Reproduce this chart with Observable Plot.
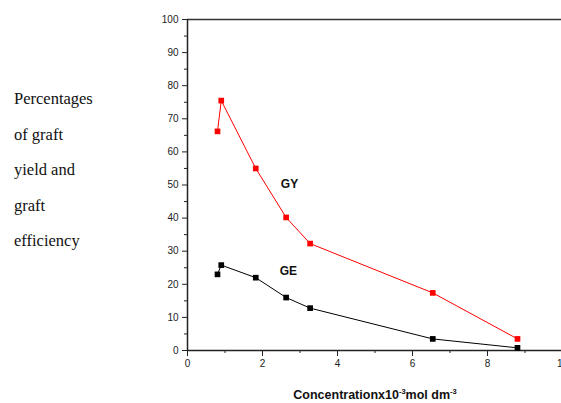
<!DOCTYPE html>
<html>
<head>
<meta charset="utf-8">
<script src="https://cdn.jsdelivr.net/npm/d3@7"></script>
<script src="https://cdn.jsdelivr.net/npm/@observablehq/plot@0.6"></script>
<style>
  html, body { margin: 0; padding: 0; background: #fff; }
  #wrap { position: relative; width: 561px; height: 403px; overflow: hidden; }
  #ylab { position: absolute; left: 14px; top: 81px; font-family: "Liberation Serif", serif; font-size: 16.5px; line-height: 35.5px; color: #111; }
  #xlab { position: absolute; left: 270px; top: 387px; width: 210px; text-align: center; font-family: "Liberation Sans", Arial, sans-serif; font-weight: bold; font-size: 12.5px; color: #111; white-space: nowrap; }
  #xlab sup { font-size: 7.5px; vertical-align: 5px; }
</style>
</head>
<body>
<div id="wrap">
  <div id="chart"></div>
  <div id="ylab">Percentages<br>of graft<br>yield and<br>graft<br>efficiency</div>
  <div id="xlab">Concentrationx10<sup>-3</sup>mol dm<sup>-3</sup></div>
</div>
<script>
const concentration = [0.8, 0.9, 1.82, 2.63, 3.27, 6.54, 8.8];
const graftYield = [66.2, 75.5, 55, 40.2, 32.3, 17.4, 3.5];
const graftEfficiency = [23, 25.8, 22, 16, 12.8, 3.5, 0.8];
const xTicks = [0, 2, 4, 6, 8, 10];
const yTicks = [0, 10, 20, 30, 40, 50, 60, 70, 80, 90, 100];
const seriesLabels = [
  {label: "GY", x: 2.72, y: 50.4},
  {label: "GE", x: 2.69, y: 23.9}
];

const gy = concentration.map((c, i) => ({x: c, y: graftYield[i]}));
const ge = concentration.map((c, i) => ({x: c, y: graftEfficiency[i]}));

const font = "Liberation Sans, Arial, sans-serif";

const chart = Plot.plot({
  width: 561,
  height: 403,
  marginLeft: 187,
  marginTop: 19,
  marginBottom: 53,
  marginRight: 0,
  style: {fontFamily: font, fontSize: "10px", color: "#222", background: "#fff"},
  x: {domain: [0, 10], range: [187, 562], label: null},
  y: {domain: [0, 100], label: null},
  marks: [
    Plot.axisX(d3.range(1, 10, 2), {tickSize: 3, text: null, stroke: "#222", label: null}),
    Plot.axisX(xTicks, {tickSize: 6, tickPadding: 3, fontSize: 10, stroke: "#222", label: null}),
    Plot.axisY(d3.range(5, 100, 10), {tickSize: 3, text: null, stroke: "#222", label: null}),
    Plot.axisY(yTicks, {tickSize: 5, tickPadding: 4, fontSize: 10, stroke: "#222", label: null}),
    Plot.ruleY([0], {x1: 0, x2: 10, stroke: "#222", strokeWidth: 1.5}),
    Plot.ruleY([100], {x1: 0, x2: 10, stroke: "#333", strokeWidth: 1.5}),
    Plot.ruleX([0], {y1: 0, y2: 100, stroke: "#222", strokeWidth: 1.5}),
    Plot.line(gy, {x: "x", y: "y", stroke: "#ff0000", strokeWidth: 1}),
    Plot.line(ge, {x: "x", y: "y", stroke: "#000", strokeWidth: 1}),
    Plot.dot(gy, {x: "x", y: "y", symbol: "square", r: 3.2, fill: "#ff0000"}),
    Plot.dot(ge, {x: "x", y: "y", symbol: "square", r: 3.2, fill: "#000"}),
    Plot.text(seriesLabels, {x: "x", y: "y", text: "label", fontWeight: "bold", fontSize: 12, fill: "#111", fontFamily: font})
  ]
});
document.getElementById("chart").appendChild(chart);
</script>
</body>
</html>
